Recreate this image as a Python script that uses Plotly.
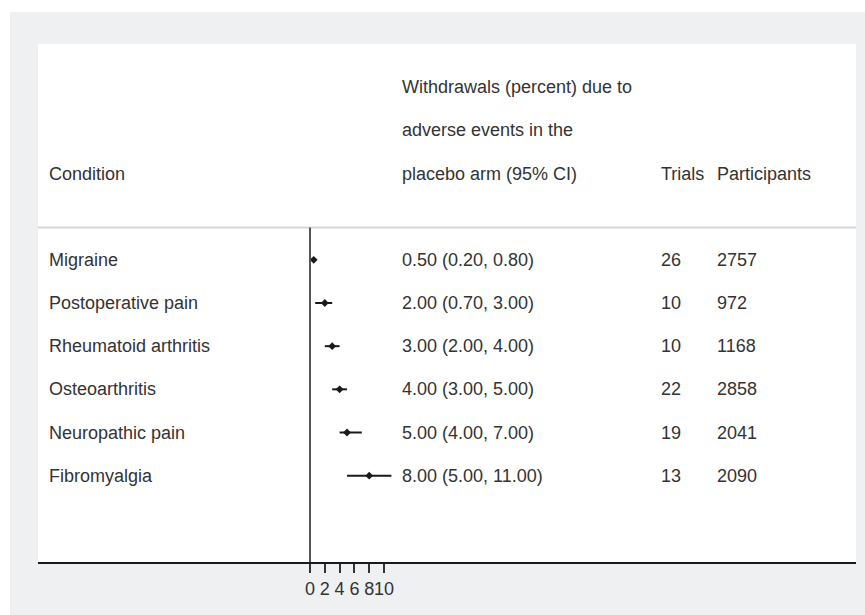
import plotly.graph_objects as go

# Placebo-arm withdrawal rates due to adverse events, by pain condition
conditions = ["Migraine", "Postoperative pain", "Rheumatoid arthritis",
              "Osteoarthritis", "Neuropathic pain", "Fibromyalgia"]
estimate = [0.50, 2.00, 3.00, 4.00, 5.00, 8.00]
ci_low = [0.20, 0.70, 2.00, 3.00, 4.00, 5.00]
ci_high = [0.80, 3.00, 4.00, 5.00, 7.00, 11.00]
trials = [26, 10, 10, 22, 19, 13]
participants = [2757, 972, 1168, 2858, 2041, 2090]
tick_values = [0, 2, 4, 6, 8, 10]

header_lines = ["Withdrawals (percent) due to",
                "adverse events in the",
                "placebo arm (95% CI)"]

W, H = 865, 615
L, R, T, B = 38, 9, 44, 53
plot_w = W - L - R
TEXT = "#333333"
FONT = "Liberation Sans, Arial, Helvetica, sans-serif"
FS = 18


def px(xpix):
    """Horizontal pixel position -> paper fraction."""
    return (xpix - L) / plot_w


rows = list(range(len(conditions)))

fig = go.Figure()
fig.add_trace(go.Scatter(
    x=estimate, y=rows, mode="markers",
    marker=dict(symbol="diamond", size=6, color="#1a1a1a"),
    error_x=dict(type="data", symmetric=False,
                 array=[h - e for h, e in zip(ci_high, estimate)],
                 arrayminus=[e - lo for e, lo in zip(estimate, ci_low)],
                 width=0, thickness=2, color="#1a1a1a"),
    hoverinfo="skip", showlegend=False,
))

ann = []
col_cond, col_est, col_trials, col_part = px(47), px(400), px(659), px(715)

# column headers
ann.append(dict(x=col_cond, y=-2, text="Condition"))
for i, line in enumerate(header_lines):
    ann.append(dict(x=col_est, y=-4 + i, text=line))
ann.append(dict(x=col_trials, y=-2, text="Trials"))
ann.append(dict(x=col_part, y=-2, text="Participants"))

# table body
for r, c, e, lo, hi, t, p in zip(rows, conditions, estimate, ci_low, ci_high,
                                 trials, participants):
    ann.append(dict(x=col_cond, y=r, text=c))
    ann.append(dict(x=col_est, y=r, text=f"{e:.2f} ({lo:.2f}, {hi:.2f})"))
    ann.append(dict(x=col_trials, y=r, text=str(t)))
    ann.append(dict(x=col_part, y=r, text=str(p)))

for a in ann:
    a.update(xref="paper", yref="y", xanchor="left", yanchor="middle",
             showarrow=False, font=dict(size=FS, color=TEXT, family=FONT))

shapes = [
    # separator below the header block
    dict(type="line", xref="paper", yref="y", x0=0, x1=1, y0=-0.75, y1=-0.75,
         line=dict(color="#d6d6d6", width=2)),
    # reference line at zero
    dict(type="line", xref="x", yref="y", x0=0, x1=0, y0=-0.75, y1=7,
         line=dict(color="#555555", width=2)),
    # white page edge on the left and top
    dict(type="rect", xref="paper", yref="paper", x0=px(-5), x1=px(10),
         y0=-0.2, y1=1.3, fillcolor="white", line=dict(width=0)),
    dict(type="rect", xref="paper", yref="paper", x0=px(-5), x1=px(W + 5),
         y0=(H - B - 12) / (H - T - B), y1=1.3, fillcolor="white",
         line=dict(width=0)),
]

x0_pix = 310
unit = 7.4
fig.update_layout(
    width=W, height=H,
    margin=dict(l=L, r=R, t=T, b=B),
    paper_bgcolor="#eef0f2", plot_bgcolor="white",
    annotations=ann, shapes=shapes,
    xaxis=dict(range=[(L - x0_pix) / unit, (W - R - x0_pix) / unit],
               tickvals=tick_values, ticktext=[str(v) for v in tick_values],
               tickangle=0,
               ticks="outside", ticklen=9, tickwidth=1.5, tickcolor="#333333",
               showline=True, linecolor="#1a1a1a", linewidth=2,
               showgrid=False, zeroline=False,
               tickfont=dict(size=FS, color=TEXT, family=FONT)),
    yaxis=dict(range=[7, -5], showticklabels=False, showgrid=False,
               zeroline=False, showline=False, ticks=""),
)

fig.write_html("out.html")
